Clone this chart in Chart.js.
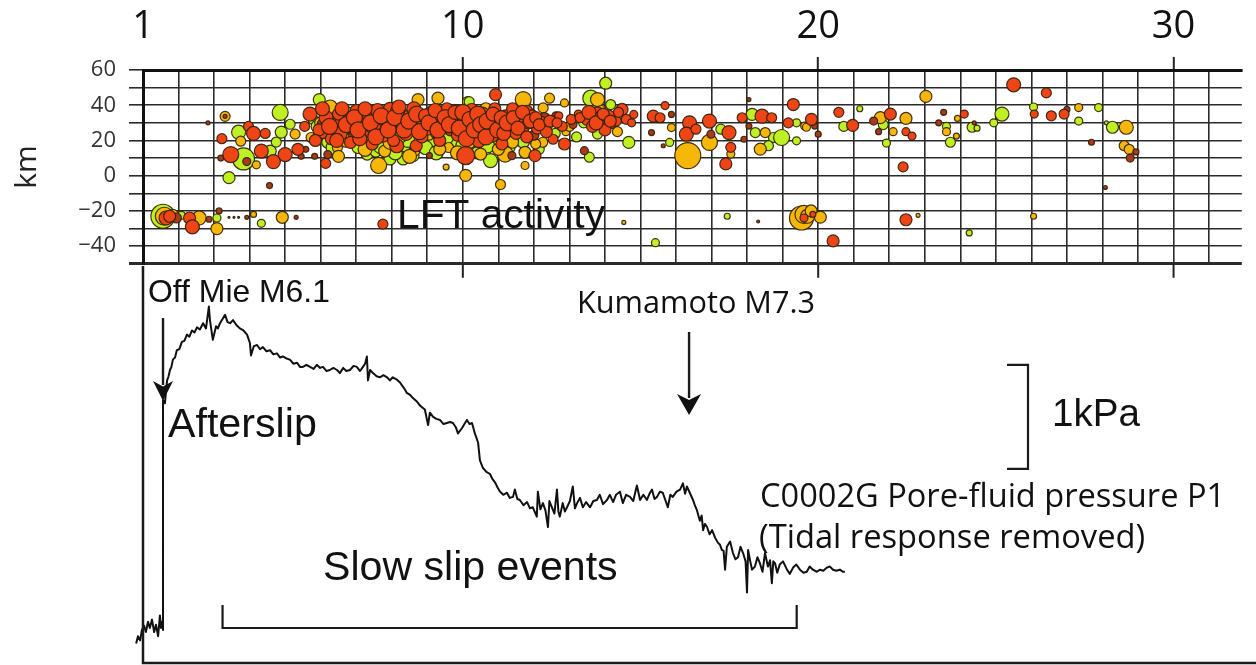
<!DOCTYPE html>
<html>
<head>
<meta charset="utf-8">
<script src="https://cdn.jsdelivr.net/npm/chart.js@4.4.1/dist/chart.umd.min.js"></script>
<style>
  html, body { margin: 0; padding: 0; background: #fff; overflow: hidden; }
  #wrap { position: relative; width: 1256px; height: 665px; }
  #wrap canvas { position: absolute; left: 0; top: 0; }
</style>
</head>
<body>
<div id="wrap">
  <canvas id="pressure" width="1256" height="665"></canvas>
  <canvas id="lft" width="1256" height="290"></canvas>
</div>
<script>
// Axis ticks (days since 2016-04-01, depth km)
const dayTicks = [1,2,3,4,5,6,7,8,9,10,11,12,13,14,15,16,17,18,19,20,21,22,23,24,25,26,27,28,29,30,31];
const dayLabels = [1, 10, 20, 30];
const majorDays = [10, 20, 30];
const kmTicks = [-50,-40,-30,-20,-10,0,10,20,30,40,50,60];
const kmLabels = [-40,-20,0,20,40,60];

// LFT events: [day, depth km, bubble radius]
const lftRed = [
  [3.22,21,5],[3.47,12,8],[3.97,28,5],[4.11,24,7],[4.44,24,5],[4.33,14,7],[4.67,8,7],[5.0,12,7],[5.36,15,6],[6.14,7,5],[7.75,-27.5,5],
  [1.65,-24,7],[1.75,-23,6],[2.31,-24,6],[2.39,-29,7],
  [5.55,28,5],[6.06,24.5,6],[6.43,30,6],[6.66,26.4,6],[6.84,18.9,6],[7.31,35.7,7],[7.4,24.5,6],[7.68,30,7],[7.95,37.6,7],
  [8.23,28.2,7],[8.14,17,7],[8.51,33.8,7],[8.69,17,6],[8.97,30,6],[9.25,24.5,6],[9.8,28.2,6],[10.08,11.4,9],
  [10.92,46,6],[11.8,36.6,6],[14.48,37.6,6],[14.81,34.8,4],[13.79,35.7,6],[13.97,30,7],[12.86,18,6],[12.54,20.7,5],[12.03,11.4,6],
  [15.36,33.8,6],[15.55,32.9,5],[15.69,39.8,4],[16.38,30,7],[16.29,23.6,7],[16.56,26.4,5],[16.94,31,7],[17.49,24.5,7],
  [17.54,16.1,5],[17.4,6.7,6],[17.86,32.9,5],[18.42,33.8,7],[18.69,32.9,5],[19.3,40.4,6],[19.16,30,5],[19.81,32,6],
  [20.58,36,5],[20.97,28.6,6],[22.03,35,6],[22.47,25,4],[22.64,22.5,4],[22.39,5,5],[24.11,35,4],[25.5,51.6,7],
  [26.08,35,4],[26.42,47,5],[26.56,34,5],[26.92,35,5],[22.47,-25,6],[20.42,-37,6],[19.6,-24,4],[19.85,-22,3],
  [5.95,26,6],[6.15,33,7],[6.3,21,6],[6.5,35,6],[6.55,24,7],[6.8,31,7],[6.9,27,6],[7.0,37,6],[7.1,21,7],[7.2,29,7],
  [7.35,33,6],[7.45,18,6],[7.5,27,7],[7.6,37,7],[7.75,23,7],[7.85,32,7],[8.0,28,7],[8.05,20,6],[8.15,36,7],[8.3,30,7],
  [8.4,24,7],[8.55,28,6],[8.62,38,7],[8.8,33,7],[8.85,22,6],[9.0,27,7],[9.1,36,6],[9.2,31,6],[9.35,20,6],[9.45,28,7],
  [9.55,38,6],[9.7,32,6],[9.85,23,6],[9.95,35,6],[10.05,30,7],[10.15,25,7],[10.25,37,7],[10.35,31,7],[10.45,20,7],
  [10.55,35,7],[10.62,27,7],[10.72,33,6],[10.82,23,7],[10.9,38,6],[11.0,30,7],[11.1,18,6],[11.2,34,6],[11.3,28,6],
  [11.4,38,6],[11.5,24,6],[11.62,32,6],[11.72,27,5],[11.85,30,6],[11.95,34,6],[12.1,27,6],[12.2,31,5],[12.35,25,6],
  [12.55,31,5],[12.7,34,4],[12.8,28,5],[13.05,32,5],[13.25,35,4],[13.5,32,6],[13.65,28,6],[13.85,33,6],[14.0,26,6],
  [14.1,34,6],[14.32,31,5],[14.6,32,5],[14.75,30,4],
  [5.7,35,7],[5.85,20,6],[6.05,38,7],[6.25,28,8],[6.45,20,7],[6.6,38,7],[6.72,29,8],[6.95,33,8],[7.05,26,8],[7.25,38,7],
  [7.4,30,8],[7.55,22,8],[7.7,34,8],[7.9,26,8],[8.08,33,8],[8.2,39,7],[8.35,26,8],[8.48,31,8],[8.7,35,8],[8.78,25,8],
  [8.95,34,7],[9.05,30,8],[9.22,37,7],[9.3,26,8],[9.5,33,8],[9.62,29,8],[9.78,36,7],[9.9,27,8],[10.0,36,8],[10.1,21,8],
  [10.2,32,8],[10.32,26,8],[10.42,35,8],[10.5,29,8],[10.65,22,8],[10.68,31,8],[10.85,35,7],[10.98,26,8],[11.08,33,7],
  [11.15,24,7],[11.25,30,8],[11.42,33,7],[11.55,27,7],[11.68,36,7],[11.8,22,6],[11.9,31,7],[12.05,33,6],[12.15,29,6],
  [12.45,31,6],[12.65,30,5],[13.3,33,5],[13.55,36,7],[13.75,30,7],[13.95,35,6],[14.15,31,6],[14.38,36,5]
];
const lftDark = [
  [2.83,30,2],[3.19,10,3],[3.92,8,4],[4.56,-5.6,3],[5.58,15,3],[5.83,11,3],[7.03,31,6],[9.06,11.4,3],
  [13.42,14.2,4],[11.38,11.4,4],[15.87,34.8,3],[15.31,24.5,3],[15.64,17,2],[16.98,23.6,4],[18.05,43.2,2],[18.05,28.2,3],
  [17.91,20.7,3],[19.9,28.2,3],[20.0,23.6,3],[21.56,31,4],[21.7,25,3],[23.53,36,3],[23.39,30,3],[24.39,30,2],
  [27.0,37.6,3],[27.69,19,3],[28.94,13.5,3],[28.78,10,4],[28.08,-6.7,2],[18.31,-26,1.5],
  [1.94,-24,5],[2.86,-24.7,3],[3.14,-20,3],[3.42,-23.6,1],[3.56,-23.6,1],[3.69,-23.6,1],[3.92,-23.6,2],[5.31,-23.6,2],
  [6.4,31,6],[6.95,23,6],[7.25,32,6],[7.7,27,6],[8.1,31,6],[8.45,26,6],[8.9,30,6],[9.3,34,6],[9.65,26,6],[10.1,33,6],
  [10.4,27,6],[10.75,30,6],[11.05,26,6],[11.35,32,5],[12.0,23,5],[12.62,34,4],[13.1,29,4],[13.72,34,5],[14.2,29,4],
  [5.3,14,3],[5.45,11,3],[6.2,12,4],[3.31,33.7,2],
  [6.1,29,7],[6.65,34,7],[7.15,34,7],[7.45,29,7],[7.95,31,7],[8.25,34,7],[8.6,31,7],[9.15,33,7],[9.4,30,7],[9.9,31,7],
  [10.28,34,7],[10.6,32,7],[10.9,30,7],[11.18,30,6],[11.45,29,6],[11.78,34,5],[12.3,33,5],[13.6,31,5],[14.05,32,5]
];
const lftYellow = [
  [3.31,33.7,5],[3.75,19.6,5],[4.19,6.2,4],[5.28,23.6,5],[6.27,39,7],[5.73,21.7,5],[6.47,16,5],[7.63,5.8,8],[8.74,43.2,6],
  [9.3,44,6],[9.53,4.9,3],[11.7,43.2,8],[12.44,44,5],[12.86,41.3,4],[12.26,38.5,5],[13.79,43.2,7],[14.25,30,5],
  [11.75,13.3,6],[11.19,12.3,8],[10.5,12.3,6],[11.75,5.8,4],[11.06,-5,5],[10.08,0.2,6],[15.87,27.3,4],[16.33,11.4,13],
  [16.94,18.9,8],[17.54,12.3,4],[18.51,24.5,5],[18.37,15.1,6],[19.62,28.2,4],[19.67,27.5,4],[21.75,33,6],[22.11,25,4],
  [22.47,32.5,6],[23.03,45,6],[23.92,32.5,3],[23.61,25,4],[23.89,22.5,3],[27.33,38.7,4],[28.67,27.5,7],[28.61,17,5],
  [28.75,15,5],[26.06,-23,3],[22.81,-22.5,2],[14.53,-26.5,2],
  [19.53,-24,12],[19.6,-22,9],[19.7,-23,7],[19.8,-20,6],[20.06,-23.5,6],
  [1.6,-23,9],[1.85,-22,5],[2.58,-24,7],[3.08,-30,6],[4.11,-22,3],[4.92,-23.6,6],
  [6.0,30,6],[6.7,19,5],[7.15,25,5],[7.8,14,6],[8.25,22,6],[8.65,14,5],[9.05,23,5],[9.6,16,5],[10.2,19,6],[10.65,38,6],
  [11.25,22,5],[11.55,36,5],[12.25,19,5],[12.9,25,4],[13.9,37,5],
  [6.5,11,6],[7.25,15,7],[7.95,19,7],[8.5,11,7],[9.35,15,6],[9.85,13,7],[10.35,24,6],[11.0,15,6],[11.4,19,6],[12.05,18,5],
  [13.0,28,5],[14.35,25,5]
];
const lftGreen = [
  [3.69,24.7,7],[3.83,9.5,11],[3.42,-1.1,6],[4.58,14,6],[4.86,35.9,8],[5.14,29.2,5],[4.89,24.7,6],[4.75,19.1,5],
  [5.96,43.2,6],[5.78,32,5],[6.75,35.7,6],[7.31,12.3,6],[7.95,9.5,6],[8.32,9.5,6],[8.6,11.4,6],[9.62,33.8,6],[10.13,42,5],
  [10.18,42,5],[13.6,44,8],[14.02,52.5,6],[14.16,40.4,5],[13.79,23.6,5],[14.67,18.9,6],[13.56,10.5,5],[10.78,8.6,7],
  [15.82,18.9,4],[17.26,26.4,5],[18.14,34.8,6],[18.23,24.5,5],[18.74,21.7,5],[18.97,21.7,8],[18.6,17,5],[19.39,19.8,4],
  [19.39,30,4],[20.72,28,5],[21.17,38,3],[21.83,29,5],[21.92,18.5,4],[23.61,28,4],[23.72,19,5],[24.33,27.5,5],[24.47,27,3],
  [24.94,30,4],[25.17,35,7],[26.06,39,4],[27.33,31,4],[27.89,38.7,4],[28.11,30,2],[28.28,27.5,6],
  [24.25,-32.5,3],[17.44,-23,3],[15.42,-38,4],
  [1.56,-23,12],[2.08,-22.5,4],[3.08,-24,4],[4.33,-27,4],
  [5.9,28,6],[6.2,19,6],[6.6,30,6],[7.05,16,6],[7.55,14,6],[7.9,21,6],[8.35,17,6],[8.75,26,6],[9.15,18,6],[9.4,23,5],
  [9.75,19,6],[10.3,16,6],[10.5,25,5],[10.95,20,6],[11.5,29,5],[11.95,21,5],[12.4,28,4],[13.4,30,5],[14.4,33,4],
  [6.35,16,7],[6.85,22,7],[7.35,20,7],[7.7,17,8],[8.1,13,7],[8.45,20,7],[8.95,16,7],[9.25,13,7],[9.55,22,7],[10.0,17,7],
  [10.4,13,6],[10.7,17,7],[11.3,16,6],[11.7,19,6],[12.15,15,5],[12.6,24,5],[13.2,22,5]
];

// C0002G pore-fluid pressure P1 (kPa, relative to pre-event level)
const pDay = [
  0.81,0.86,0.92,0.97,1.03,1.08,1.14,1.19,1.25,1.31,1.36,1.42,1.47,1.50,1.53,1.556,
  1.556,1.61,1.64,1.67,1.71,1.75,1.79,1.83,1.89,1.94,2.01,2.08,2.15,2.22,2.29,2.36,2.43,2.50,2.58,2.67,2.75,
  2.83,2.86,2.94,3.03,3.08,3.14,3.21,3.28,3.35,3.42,3.50,3.60,3.69,3.79,3.89,3.97,4.00,4.08,4.17,4.25,4.33,
  4.43,4.53,4.62,4.72,4.81,4.89,4.99,5.08,5.18,5.28,5.36,5.44,5.54,5.64,5.74,5.83,5.92,6.00,6.10,6.19,6.29,
  6.39,6.47,6.56,6.65,6.75,6.85,6.94,7.03,7.11,7.17,7.22,7.25,7.31,7.39,7.49,7.58,7.68,7.78,7.86,7.94,8.04,
  8.14,8.22,8.28,8.33,8.42,8.50,8.60,8.69,8.76,8.83,8.92,8.97,9.06,9.15,9.25,9.35,9.44,9.53,9.61,9.69,9.75,
  9.86,9.93,10.00,10.07,10.14,10.22,10.31,10.36,10.44,10.54,10.64,10.71,10.78,10.85,10.92,11.01,11.11,11.19,
  11.28,11.33,11.40,11.47,11.57,11.67,11.75,11.83,11.94,11.97,12.04,12.11,12.18,12.25,12.29,12.36,12.43,12.50,
  12.54,12.58,12.66,12.72,12.78,12.86,12.94,13.00,13.06,13.14,13.22,13.31,13.42,13.51,13.61,13.69,13.78,13.89,
  13.97,14.06,14.14,14.25,14.33,14.42,14.53,14.62,14.72,14.81,14.90,15.00,15.07,15.14,15.21,15.28,15.36,15.44,
  15.51,15.58,15.65,15.72,15.82,15.92,16.00,16.06,16.11,16.19,16.28,16.33,16.39,16.47,16.52,16.56,16.61,16.67,
  16.74,16.81,16.89,16.97,17.03,17.08,17.13,17.17,17.22,17.31,17.39,17.46,17.53,17.60,17.67,17.74,17.78,17.81,
  17.87,17.92,18.00,18.07,18.14,18.21,18.28,18.36,18.42,18.47,18.51,18.56,18.62,18.69,18.78,18.89,18.97,19.06,
  19.15,19.25,19.35,19.44,19.52,19.61,19.72,19.81,19.90,20.00,20.08,20.17,20.26,20.36,20.44,20.50
];
const pKPa = [
  -0.13,-0.06,-0.10,0.00,0.04,-0.02,0.08,0.02,0.10,-0.02,0.05,-0.06,0.14,0.02,0.08,0.00,
  2.21,2.18,2.30,2.40,2.44,2.50,2.53,2.60,2.62,2.69,2.70,2.77,2.78,2.84,2.82,2.88,2.86,2.91,2.89,2.95,2.90,
  3.11,2.98,2.79,2.92,2.90,2.95,2.99,3.03,2.96,2.95,2.98,2.93,2.90,2.88,2.84,2.76,2.64,2.73,2.74,2.70,2.72,
  2.68,2.69,2.65,2.66,2.62,2.63,2.61,2.60,2.56,2.57,2.53,2.53,2.55,2.53,2.51,2.55,2.52,2.53,2.49,2.50,2.52,
  2.50,2.47,2.52,2.49,2.50,2.54,2.53,2.49,2.53,2.56,2.63,2.40,2.50,2.47,2.44,2.43,2.45,2.43,2.40,2.43,2.41,
  2.38,2.34,2.31,2.28,2.26,2.23,2.20,2.16,2.14,2.12,1.97,2.09,2.05,2.03,2.02,1.98,1.99,2.00,1.99,1.95,1.89,
  1.94,1.98,2.02,1.98,1.99,1.89,1.80,1.63,1.56,1.52,1.50,1.45,1.42,1.37,1.33,1.30,1.32,1.27,
  1.28,1.35,1.26,1.25,1.20,1.23,1.17,1.18,1.09,1.33,1.16,1.22,1.15,0.99,1.24,1.18,1.12,1.35,
  1.14,1.09,1.22,1.14,1.18,1.24,1.38,1.17,1.22,1.27,1.18,1.23,1.18,1.24,1.25,1.30,1.21,1.25,
  1.30,1.23,1.30,1.33,1.22,1.30,1.28,1.24,1.39,1.25,1.30,1.25,1.31,1.35,1.26,1.28,1.33,1.32,
  1.25,1.18,1.30,1.28,1.33,1.35,1.41,1.31,1.38,1.32,1.25,1.20,1.15,1.05,1.10,0.96,1.02,0.99,
  0.92,0.96,0.89,0.84,0.82,0.77,0.76,0.58,0.80,0.85,0.74,0.68,0.70,0.80,0.74,0.66,0.36,0.77,
  0.66,0.58,0.61,0.70,0.64,0.56,0.74,0.61,0.67,0.45,0.66,0.64,0.55,0.63,0.66,0.58,0.54,0.60,
  0.63,0.58,0.55,0.56,0.61,0.58,0.56,0.58,0.57,0.60,0.61,0.58,0.57,0.58,0.56,0.56
];

// Annotations
const quakeDays = [1.556, 16.17];
const sseSpan = [3.21, 19.16];
const scaleBarKPa = [1.55, 2.55];

const SANS = '"Liberation Sans", Arial, sans-serif';
const HUMAN = '"Open Sans", "Noto Sans", sans-serif';

function fitText(ctx, text, x, y, width, family) {
  ctx.font = '100px ' + family;
  const size = 100 * width / ctx.measureText(text).width;
  ctx.font = size.toFixed(1) + 'px ' + family;
  ctx.fillText(text, x, y);
}

function arrowDown(ctx, x, yTop, yTip, headLen, halfW) {
  ctx.beginPath();
  ctx.moveTo(x, yTop);
  ctx.lineTo(x, yTip - headLen + 4);
  ctx.stroke();
  ctx.beginPath();
  ctx.moveTo(x, yTip);
  ctx.lineTo(x - halfW, yTip - headLen);
  ctx.lineTo(x, yTip - headLen * 0.72);
  ctx.lineTo(x + halfW, yTip - headLen);
  ctx.closePath();
  ctx.fill();
}

function bubbleSet(list, color) {
  return {
    data: list.map(([d, km, r]) => ({ x: d, y: km, r: r })),
    backgroundColor: color,
    borderColor: 'rgba(45, 32, 8, 0.9)',
    borderWidth: 1.2
  };
}

// Top panel: extended major ticks and caption
const lftDecor = {
  id: 'lftDecor',
  afterDraw(chart) {
    const { ctx, chartArea, scales: { x } } = chart;
    ctx.save();
    ctx.strokeStyle = '#222';
    ctx.lineWidth = 2;
    majorDays.forEach(d => {
      const px = x.getPixelForValue(d);
      ctx.beginPath();
      ctx.moveTo(px, chartArea.bottom);
      ctx.lineTo(px, chartArea.bottom + 14);
      ctx.stroke();
    });
    ctx.fillStyle = '#111';
    ctx.textBaseline = 'alphabetic';
    fitText(ctx, 'LFT activity', 397, 228, 208, SANS);
    ctx.restore();
  }
};

// Bottom panel: frame, arrows, brackets, labels
const pressureDecor = {
  id: 'pressureDecor',
  afterDraw(chart) {
    const { ctx, chartArea: area, scales: { x, y } } = chart;
    const left = x.getPixelForValue(1);
    ctx.save();
    ctx.strokeStyle = '#1a1a1a';
    ctx.fillStyle = '#111';
    ctx.lineWidth = 2.5;
    ctx.beginPath();
    ctx.moveTo(left, area.top);
    ctx.lineTo(left, area.bottom - 1);
    ctx.lineTo(area.right, area.bottom - 1);
    ctx.stroke();

    ctx.lineWidth = 2.4;
    arrowDown(ctx, x.getPixelForValue(quakeDays[0]), 318, 401, 20, 10);
    arrowDown(ctx, x.getPixelForValue(quakeDays[1]), 332, 415, 21, 12);

    // slow slip bracket
    const s0 = x.getPixelForValue(sseSpan[0]);
    const s1 = x.getPixelForValue(sseSpan[1]);
    ctx.lineWidth = 2.2;
    ctx.beginPath();
    ctx.moveTo(s0, 605);
    ctx.lineTo(s0, 628);
    ctx.lineTo(s1, 628);
    ctx.lineTo(s1, 605);
    ctx.stroke();

    // 1 kPa scale bar
    const b0 = y.getPixelForValue(scaleBarKPa[0]);
    const b1 = y.getPixelForValue(scaleBarKPa[1]);
    ctx.beginPath();
    ctx.moveTo(1007, b1);
    ctx.lineTo(1028, b1);
    ctx.lineTo(1028, b0);
    ctx.lineTo(1007, b0);
    ctx.stroke();

    ctx.textBaseline = 'alphabetic';
    fitText(ctx, 'Off Mie M6.1', 148, 302, 182, SANS);
    fitText(ctx, 'Afterslip', 168, 437, 149, SANS);
    fitText(ctx, 'Slow slip events', 323, 580, 295, SANS);
    fitText(ctx, '1kPa', 1052, 426, 88, SANS);
    fitText(ctx, 'Kumamoto M7.3', 577, 313, 238, HUMAN);
    fitText(ctx, 'C0002G Pore-fluid pressure P1', 760, 507, 465, HUMAN);
    fitText(ctx, '(Tidal response removed)', 759, 548, 386, HUMAN);
    ctx.restore();
  }
};

new Chart(document.getElementById('pressure'), {
  type: 'line',
  data: {
    datasets: [{
      data: pDay.map((d, i) => ({ x: d, y: pKPa[i] })),
      borderColor: '#111',
      borderWidth: 2,
      borderJoinStyle: 'round',
      pointRadius: 0,
      tension: 0,
      clip: false
    }]
  },
  options: {
    responsive: false,
    animation: false,
    devicePixelRatio: 1,
    events: [],
    layout: { padding: { left: 134, right: 0, top: 266, bottom: 1 } },
    plugins: { legend: { display: false }, tooltip: { enabled: false } },
    scales: {
      x: { type: 'linear', display: false, min: 0.75, max: 31.92 },
      y: { type: 'linear', display: false, min: -0.327, max: 3.5 }
    }
  },
  plugins: [pressureDecor]
});

new Chart(document.getElementById('lft'), {
  type: 'bubble',
  data: {
    datasets: [
      bubbleSet(lftRed, '#ef4416'),
      bubbleSet(lftDark, '#a8391b'),
      bubbleSet(lftYellow, '#f7b708'),
      bubbleSet(lftGreen, '#bef023')
    ]
  },
  options: {
    responsive: false,
    animation: false,
    devicePixelRatio: 1,
    events: [],
    layout: { padding: { left: 0, right: 0, top: 0, bottom: 24 } },
    plugins: { legend: { display: false }, tooltip: { enabled: false } },
    scales: {
      x: {
        type: 'linear',
        position: 'top',
        min: 1,
        max: 31.92,
        afterBuildTicks: scale => { scale.ticks = dayTicks.map(v => ({ value: v })); },
        afterFit: scale => { scale.height = 70; },
        ticks: {
          autoSkip: false,
          maxRotation: 0,
          minRotation: 0,
          padding: 7,
          color: '#111',
          font: { family: HUMAN, size: 38 },
          callback: v => dayLabels.includes(v) ? String(v) : ''
        },
        grid: {
          color: '#2b2b2b',
          lineWidth: 1.6,
          tickLength: 13,
          tickWidth: 2,
          tickColor: c => (c.tick && majorDays.includes(c.tick.value)) ? '#222' : 'rgba(0,0,0,0)'
        },
        border: { color: '#111', width: 3 }
      },
      y: {
        type: 'linear',
        min: -50,
        max: 60,
        afterBuildTicks: scale => { scale.ticks = kmTicks.map(v => ({ value: v })); },
        afterFit: scale => { scale.width = 143; },
        ticks: {
          autoSkip: false,
          padding: 13,
          color: '#333',
          font: { family: HUMAN, size: 22 },
          callback: v => kmLabels.includes(v) ? (v < 0 ? '\u2212' + Math.abs(v) : String(v)) : ''
        },
        grid: {
          color: '#2b2b2b',
          lineWidth: c => (c.tick && c.tick.value === -50) ? 3 : 1.6,
          tickLength: 14
        },
        border: { color: '#111', width: 3 },
        title: {
          display: true,
          text: 'km',
          color: '#222',
          font: { family: HUMAN, size: 30 },
          padding: { top: 9, bottom: 0 }
        }
      }
    }
  },
  plugins: [lftDecor]
});
</script>
</body>
</html>
